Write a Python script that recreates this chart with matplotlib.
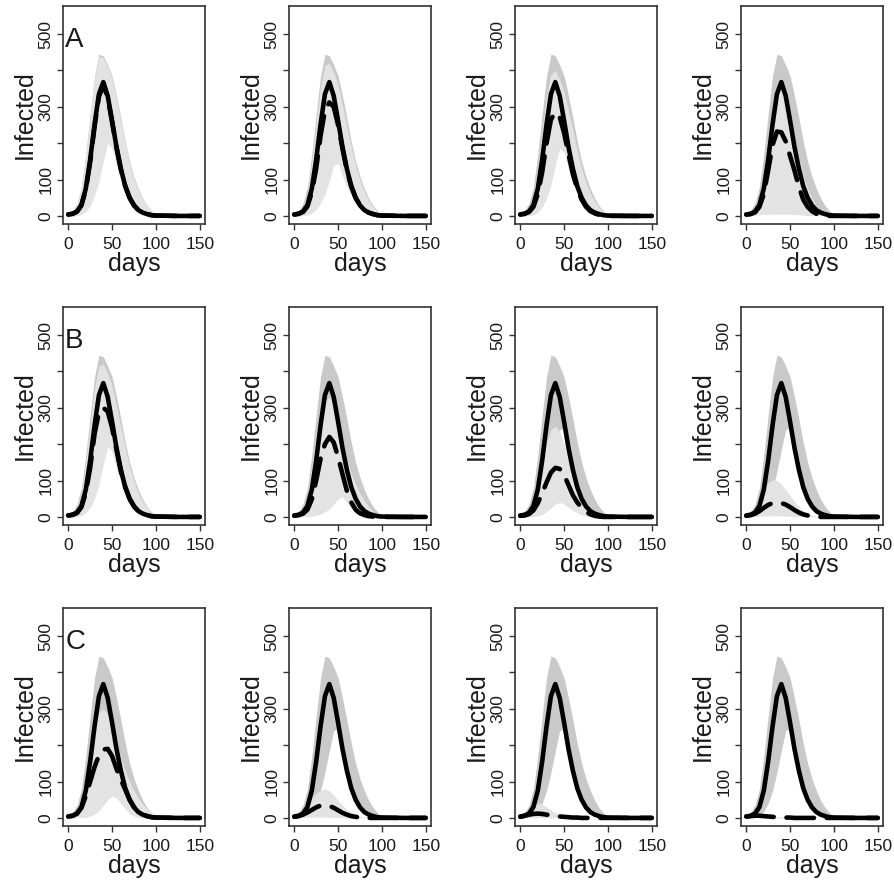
import matplotlib
matplotlib.use("Agg")
import matplotlib.pyplot as plt

plt.rcParams['font.family'] = ['Liberation Sans', 'DejaVu Sans']

# time grid (days) shared by every series
days = [0, 5, 10, 15, 20, 25, 30, 35, 40, 45, 50, 55, 60, 65, 70, 75, 80, 85, 90, 95, 100, 125, 150]

# baseline epidemic (solid line) and its dark band - same in all panels
base_mean  = [4, 6, 12, 30, 75, 155, 252, 335, 368, 330, 262, 190, 130, 82, 50, 29, 16, 9, 5, 2, 1, 0, 0]
base_upper = [8, 15, 35, 80, 170, 280, 385, 445, 440, 415, 385, 330, 270, 205, 150, 108, 75, 48, 28, 14, 5, 0, 0]
base_lower = [0, 0, 2, 6, 18, 40, 75, 125, 185, 240, 245, 180, 125, 90, 58, 35, 20, 10, 4, 1, 0, 0, 0]

# intervention scenarios (dashed line) and their light bands
a1_mean  = [4, 6, 12, 29, 72, 148, 245, 328, 360, 325, 258, 188, 128, 82, 50, 29, 16, 9, 5, 2, 1, 0, 0]
a1_upper = [7, 14, 33, 76, 165, 272, 378, 438, 435, 410, 378, 322, 262, 198, 145, 104, 72, 46, 27, 13, 5, 0, 0]
a1_lower = [0, 0, 1, 4, 12, 28, 55, 95, 150, 200, 185, 140, 100, 70, 45, 27, 15, 7, 3, 1, 0, 0, 0]

a2_mean  = [4, 6, 11, 26, 65, 130, 220, 290, 312, 300, 250, 185, 125, 82, 50, 29, 16, 9, 5, 2, 1, 0, 0]
a2_upper = [6, 12, 28, 65, 150, 255, 355, 415, 420, 395, 360, 305, 248, 190, 138, 98, 66, 42, 25, 12, 5, 0, 0]
a2_lower = [0, 0, 1, 3, 8, 18, 35, 60, 95, 140, 145, 110, 80, 55, 35, 20, 11, 5, 2, 1, 0, 0, 0]

a3_mean  = [4, 6, 11, 25, 60, 120, 200, 265, 285, 272, 228, 170, 115, 75, 45, 25, 13, 7, 3, 1, 0, 0, 0]
a3_upper = [6, 11, 25, 58, 135, 235, 330, 390, 400, 375, 340, 290, 235, 180, 130, 92, 62, 40, 24, 12, 5, 0, 0]
a3_lower = [0, 0, 1, 3, 10, 24, 48, 85, 140, 185, 175, 130, 92, 63, 40, 24, 13, 6, 2, 1, 0, 0, 0]

a4_mean  = [4, 5, 10, 25, 60, 125, 195, 232, 230, 205, 165, 125, 80, 45, 25, 13, 6, 3, 1, 0, 0, 0, 0]
a4_upper = [6, 10, 22, 55, 130, 225, 300, 345, 345, 315, 270, 215, 160, 112, 75, 48, 28, 15, 7, 3, 1, 0, 0]
a4_lower = [0, 1, 2, 3, 4, 4, 5, 5, 5, 5, 5, 4, 3, 2, 1, 1, 0, 0, 0, 0, 0, 0, 0]

b1_mean  = [4, 6, 11, 27, 66, 135, 228, 288, 300, 290, 245, 185, 125, 82, 50, 29, 16, 9, 5, 2, 1, 0, 0]
b1_upper = [6, 12, 28, 65, 150, 255, 355, 415, 420, 395, 360, 305, 248, 190, 138, 98, 66, 42, 25, 12, 5, 0, 0]
b1_lower = [0, 0, 1, 4, 11, 26, 50, 88, 145, 192, 180, 135, 95, 65, 42, 25, 14, 6, 2, 1, 0, 0, 0]

b2_mean  = [3, 5, 9, 20, 48, 100, 160, 200, 220, 205, 165, 118, 72, 40, 20, 10, 5, 2, 1, 0, 0, 0, 0]
b2_upper = [5, 9, 20, 60, 140, 230, 290, 320, 330, 310, 270, 210, 160, 120, 90, 65, 45, 28, 15, 7, 3, 0, 0]
b2_lower = [0, 0, 1, 1, 2, 4, 8, 14, 22, 35, 50, 55, 40, 25, 12, 5, 2, 1, 0, 0, 0, 0, 0]

b3_mean  = [3, 4, 8, 18, 38, 65, 95, 122, 135, 132, 115, 88, 60, 40, 25, 14, 7, 3, 1, 0, 0, 0, 0]
b3_upper = [4, 8, 15, 40, 90, 150, 205, 240, 250, 235, 200, 160, 120, 85, 60, 40, 25, 14, 7, 3, 1, 0, 0]
b3_lower = [0, 0, 0, 1, 3, 7, 15, 25, 35, 40, 35, 26, 18, 11, 6, 3, 1, 0, 0, 0, 0, 0, 0]

b4_mean  = [3, 5, 9, 16, 25, 33, 38, 40, 38, 34, 27, 19, 12, 7, 4, 2, 1, 0, 0, 0, 0, 0, 0]
b4_upper = [4, 10, 25, 50, 75, 95, 102, 100, 90, 75, 58, 42, 28, 17, 9, 4, 1, 0, 0, 0, 0, 0, 0]
b4_lower = [0, 1, 2, 2, 3, 3, 3, 3, 3, 2, 2, 1, 1, 0, 0, 0, 0, 0, 0, 0, 0, 0, 0]

c1_mean  = [4, 6, 12, 28, 60, 100, 140, 172, 188, 190, 170, 135, 105, 78, 50, 30, 17, 9, 5, 2, 1, 0, 0]
c1_upper = [5, 10, 25, 60, 120, 190, 250, 290, 300, 285, 250, 205, 165, 130, 100, 75, 55, 38, 25, 15, 8, 0, 0]
c1_lower = [0, 0, 1, 1, 2, 5, 10, 20, 35, 50, 60, 55, 40, 25, 12, 5, 1, 0, 0, 0, 0, 0, 0]

c2_mean  = [3, 5, 9, 15, 22, 29, 34, 36, 33, 28, 21, 14, 9, 5, 3, 1, 0, 0, 0, 0, 0, 0, 0]
c2_upper = [4, 8, 20, 38, 55, 68, 76, 80, 75, 62, 48, 35, 24, 15, 9, 4, 2, 0, 0, 0, 0, 0, 0]
c2_lower = [0, 1, 2, 2, 2, 2, 2, 2, 2, 1, 1, 1, 0, 0, 0, 0, 0, 0, 0, 0, 0, 0, 0]

c3_mean  = [3, 6, 9, 11, 12, 11, 9, 7, 5, 4, 3, 2, 1, 1, 0, 0, 0, 0, 0, 0, 0, 0, 0]
c3_upper = [5, 8, 20, 32, 40, 38, 30, 22, 15, 10, 6, 3, 1, 0, 0, 0, 0, 0, 0, 0, 0, 0, 0]
c3_lower = [0, 1, 1, 1, 1, 1, 1, 0, 0, 0, 0, 0, 0, 0, 0, 0, 0, 0, 0, 0, 0, 0, 0]

c4_mean  = [4, 5, 6, 6, 5, 4, 3, 2, 2, 1, 1, 0, 0, 0, 0, 0, 0, 0, 0, 0, 0, 0, 0]
c4_upper = [6, 9, 11, 11, 10, 8, 6, 4, 3, 2, 1, 0, 0, 0, 0, 0, 0, 0, 0, 0, 0, 0, 0]
c4_lower = [0, 1, 1, 1, 1, 1, 0, 0, 0, 0, 0, 0, 0, 0, 0, 0, 0, 0, 0, 0, 0, 0, 0]

row_letters = ['A', 'B', 'C']
panels = [
    [(a1_mean, a1_lower, a1_upper), (a2_mean, a2_lower, a2_upper),
     (a3_mean, a3_lower, a3_upper), (a4_mean, a4_lower, a4_upper)],
    [(b1_mean, b1_lower, b1_upper), (b2_mean, b2_lower, b2_upper),
     (b3_mean, b3_lower, b3_upper), (b4_mean, b4_lower, b4_upper)],
    [(c1_mean, c1_lower, c1_upper), (c2_mean, c2_lower, c2_upper),
     (c3_mean, c3_lower, c3_upper), (c4_mean, c4_lower, c4_upper)],
]

W, H = 895, 881
fig = plt.figure(figsize=(W / 100, H / 100), dpi=100)

col_left = [63, 289, 515, 741]
row_top = [6, 307, 608]
box_w, box_h = 142, 218

dark_gray = '#c9c9c9'
light_gray = '#e3e3e3'
ink = '#1a1a1a'

for r in range(3):
    for c in range(4):
        mean, lower, upper = panels[r][c]
        ax = fig.add_axes([col_left[c] / W, 1 - (row_top[r] + box_h) / H, box_w / W, box_h / H])

        ax.fill_between(days, base_lower, base_upper, color=dark_gray, lw=0)
        ax.fill_between(days, lower, upper, color=light_gray, lw=0)
        ax.plot(days, mean, color='black', lw=3.3, dashes=(6, 2.8),
                dash_capstyle='round', dash_joinstyle='round')
        ax.plot(days, base_mean, color='black', lw=3.3,
                solid_capstyle='round', solid_joinstyle='round')

        ax.set_xlim(-6, 156)
        ax.set_ylim(-22.2, 577.2)

        ax.set_xticks([0, 50, 100, 150])
        ax.set_xticklabels(['0', '50', '100', '150'])
        ax.set_yticks([0, 100, 200, 300, 400, 500])
        ax.set_yticklabels(['0', '100', '', '300', '', '500'], rotation=90, va='center')
        ax.tick_params(direction='out', length=4.5, width=1, colors='#333333',
                       labelcolor=ink, labelsize=12.5)
        ax.tick_params(axis='x', pad=5)
        ax.tick_params(axis='y', pad=2.5)
        for sp in ax.spines.values():
            sp.set_linewidth(1.2)
            sp.set_color('#333333')

        ax.set_ylabel('Infected', fontsize=18, color=ink, labelpad=1)
        ax.set_xlabel('days', fontsize=18, color=ink, labelpad=0)

        if c == 0:
            ax.text(-3.5, 465, row_letters[r], fontsize=20, color=ink,
                    ha='left', va='baseline')

fig.savefig('out.png', dpi=100)
